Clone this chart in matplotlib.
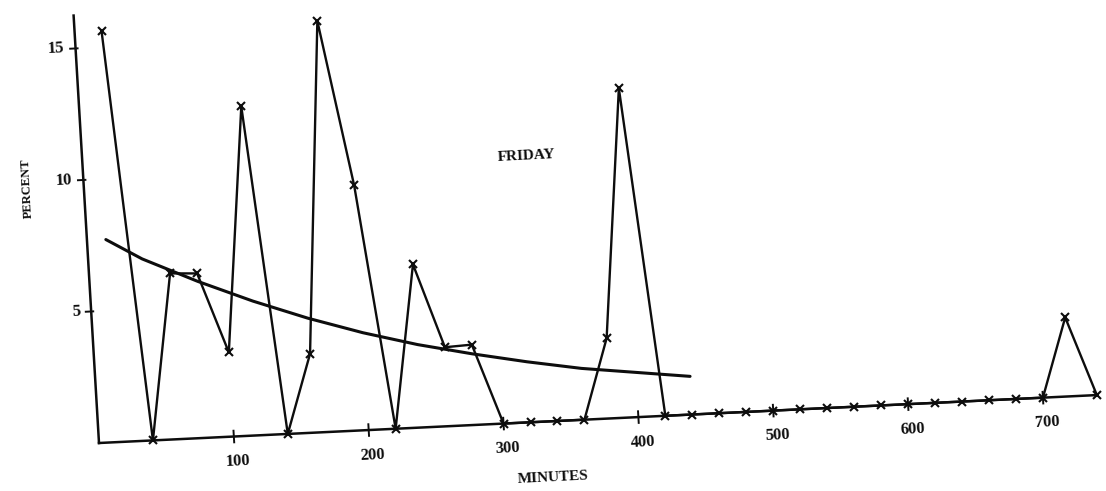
import matplotlib
matplotlib.use('Agg')
import matplotlib.pyplot as plt
import matplotlib.transforms as mtransforms
import numpy as np

# data
minutes = [20, 40, 60, 80, 100, 120, 140, 160, 180, 200, 220, 240, 260, 280,
           300, 320, 340, 360, 380, 400, 420, 440, 460, 480, 500, 520, 540,
           560, 580, 600, 620, 640, 660, 680, 700, 720, 740]
percent = [15.6, 0, 6.3, 6.25, 3.2, 12.5, 0, 3.0, 15.6, 9.3, 0, 6.2, 3.0, 3.05,
           0, 0, 0, 0, 3.05, 12.5, 0, 0, 0, 0, 0, 0, 0,
           0, 0, 0, 0, 0, 0, 0, 0, 3.0, 0]

# smooth fitted curve
curve_min = [14, 40, 80, 120, 160, 200, 240, 280, 320, 360, 400, 440]
curve_pct = [7.7, 6.9, 5.95, 5.1, 4.35, 3.7, 3.15, 2.7, 2.3, 1.95, 1.7, 1.45]

x_ticks = [100, 200, 300, 400, 500, 600, 700]
y_ticks = [5, 10, 15]

W, H = 1106, 491
fig = plt.figure(figsize=(W / 100, H / 100), dpi=100)
fig.patch.set_facecolor('white')

# plain axes, 1.35 px per minute and 26.35 px per percent
ax = fig.add_axes([99 / W, 48 / H, 760 * 1.35 / W, 16.5 * 26.35 / H])
ax.set_xlim(0, 760)
ax.set_ylim(0, 16.5)
ax.axis('off')

# the scan is tilted by about 3 degrees -> shear/rotate around the origin
ox, oy = ax.transData.transform((0, 0))
ax_ang = np.deg2rad(2.75)   # x axis
ay_ang = np.deg2rad(3.4)    # y axis
tilt = mtransforms.Affine2D(np.array([
    [np.cos(ax_ang), -np.sin(ay_ang), 0],
    [np.sin(ax_ang), np.cos(ay_ang), 0],
    [0, 0, 1]]))
shear = (mtransforms.Affine2D().translate(-ox, -oy) + tilt +
         mtransforms.Affine2D().translate(ox, oy))
tr = ax.transData + shear

ink = '#0d0d0d'
serif = ['Liberation Serif', 'DejaVu Serif']
rot = 2.9

# axes lines
ax.plot([0, 0], [0, 16.25], color=ink, lw=1.8, transform=tr, clip_on=False)
ax.plot([0, minutes[-1]], [0, 0], color=ink, lw=1.8, transform=tr, clip_on=False)

for t in x_ticks:
    ax.plot([t, t], [-0.22, 0.22], color=ink, lw=1.4, transform=tr, clip_on=False)
    ax.text(t + 2, -0.95, str(t), transform=tr, ha='center', va='center',
            fontsize=12, fontweight='bold', family=serif, color=ink,
            rotation=rot)
for v in y_ticks:
    ax.plot([-4, 1.5], [v, v], color=ink, lw=1.4, transform=tr, clip_on=False)
    ax.text(-8, v, str(v), transform=tr, ha='right', va='center',
            fontsize=12, fontweight='bold', family=serif, color=ink,
            rotation=rot)

# data
ax.plot(minutes, percent, color=ink, lw=1.7, marker='x', markersize=5.5,
        markeredgewidth=1.5, transform=tr, clip_on=False)
ax.plot(curve_min, curve_pct, color=ink, lw=2.2, transform=tr, clip_on=False,
        solid_capstyle='round')

# labels
ax.text(334, -2.15, 'MINUTES', transform=tr, ha='center', va='center',
        fontsize=11, fontweight='bold', family=serif, color=ink, rotation=rot)
ax.text(329, 10.1, 'FRIDAY', transform=tr, ha='center', va='center',
        fontsize=11, fontweight='bold', family=serif, color=ink, rotation=rot)
ax.text(-42, 9.8, 'PERCENT', transform=tr, ha='center', va='center',
        fontsize=9, fontweight='bold', family=serif, color=ink,
        rotation=90 + rot)

fig.savefig('out.png', dpi=100, facecolor='white')
